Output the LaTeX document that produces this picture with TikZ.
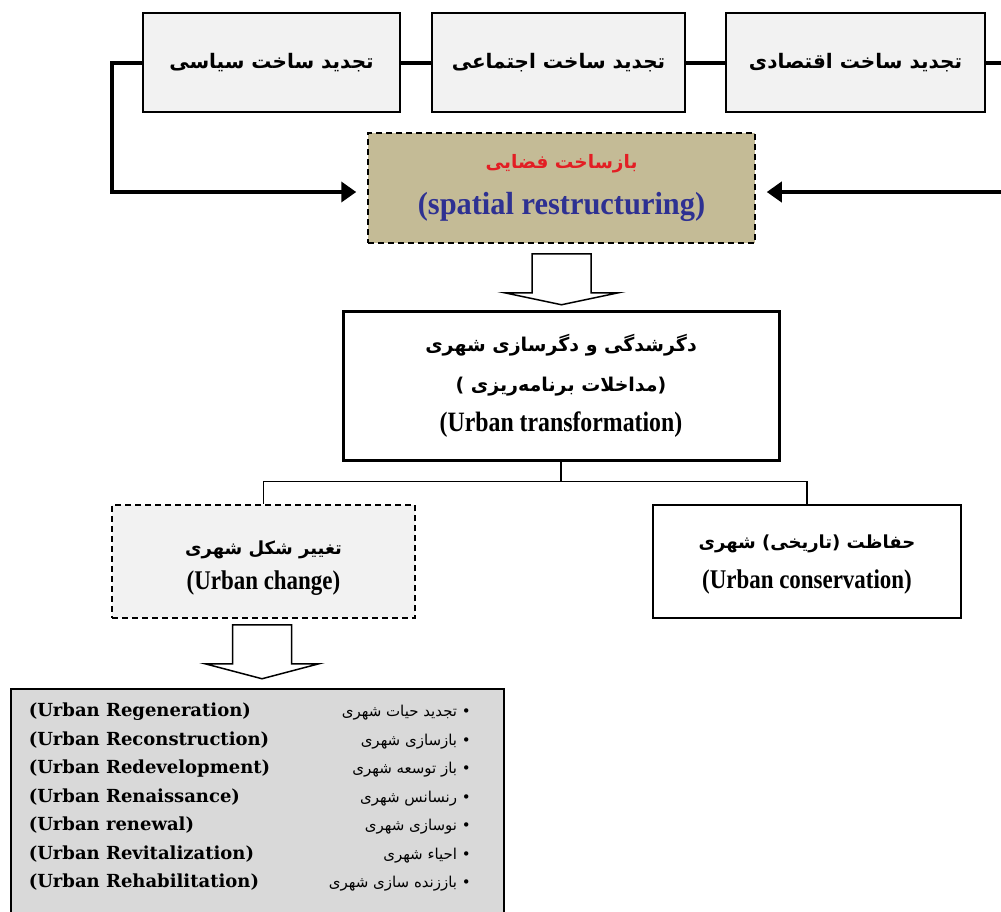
\documentclass[tikz,border=0pt]{standalone}
\usepackage{fontspec}
\setmainfont{Liberation Serif}
\newfontfamily\fafont[Script=Arabic]{DejaVu Sans}
\newfontfamily\enfont[FakeStretch=0.85]{Liberation Serif}
\newfontfamily\widefont[FakeStretch=0.95]{Liberation Serif}
\newfontfamily\listfont{DejaVu Serif}
\TeXXeTstate=1
\newcommand{\fa}[1]{{\fafont\beginR #1\endR}}
\usetikzlibrary{arrows.meta}

\definecolor{boxgray}{RGB}{242,242,242}
\definecolor{tanfill}{RGB}{196,187,150}
\definecolor{listgray}{RGB}{217,217,217}
\definecolor{redtxt}{RGB}{227,30,36}
\definecolor{bluetxt}{RGB}{46,49,146}

\tikzset{
  topbox/.style={draw, line width=1.5pt, fill=boxgray, minimum width=#1, minimum height=99pt,
    font=\fontsize{20}{24}\selectfont\fafont\bfseries},
  midbox/.style={draw, align=center, minimum width=#1, minimum height=113pt, line width=1.5pt},
  dashbox/.style={dash pattern=on 6pt off 4pt},
  thickarr/.style={line width=4pt, -{Triangle[length=15pt,width=20pt]}},
  blockarr/.style={draw, fill=white, line width=1.5pt, line join=miter},
}

\begin{document}
\begin{tikzpicture}[x=1pt,y=-1pt]
    \clip (0,0) rectangle (1001,911);

    % three restructuring boxes
    \node[topbox=257pt] (pol) at (271.5,62.5) {\fa{تجدید ساخت سیاسی}};
    \node[topbox=253pt] (soc) at (558.5,62.5) {\fa{تجدید ساخت اجتماعی}};
    \node[topbox=259pt] (eco) at (855.5,62.5) {\fa{تجدید ساخت اقتصادی}};
    \coordinate (outtop) at (1001,62.5);
    \coordinate (outmid) at (1001,192);

    % spatial restructuring
    \node[draw, dashbox, line width=1.5pt, fill=tanfill, align=center, minimum width=387pt, minimum height=110pt,
      font=\fontsize{18.5}{46}\selectfont] (spat) at (561.5,188)
      {{\color{redtxt}\fafont\bfseries\fa{بازساخت فضایی}}\\
       {\color{bluetxt}\fontsize{32}{32}\selectfont\widefont\bfseries (spatial restructuring)}};

    \draw[line width=4pt] (soc) -- (pol);
    \draw[line width=4pt] (soc) -- (eco);
    \draw[line width=4pt] (eco) -- (outtop);
    \draw[thickarr] (pol.west) -- ++(-30,0) |- ([xshift=-11pt]spat.west |- 0,192);
    \draw[thickarr] (outmid) -- ([xshift=11pt]spat.east |- 0,192);

    % block arrow
    \draw[blockarr] (spat.south) ++(-29.5,10) -- ++(0,39) -- ++(-27.5,0) -- ++(57,12)
      -- ++(57,-12) -- ++(-27.5,0) -- ++(0,-39) -- cycle;

    % urban transformation
    \node[draw, line width=3pt, align=center, minimum width=436pt, minimum height=149pt,
      font=\fontsize{19}{40}\selectfont] (trans) at (561,385.5)
      {{\fafont\bfseries\fa{دگرشدگی و دگرسازی شهری}}\\
       {\fafont\bfseries\fa{(مداخلات برنامه‌ریزی )}}\\
       {\fontsize{28}{28}\selectfont\enfont\bfseries (Urban transformation)}};

    \node[midbox=303pt, dashbox, fill=boxgray, font=\fontsize{18}{35}\selectfont] (chg) at (263.5,561.5)
      {\rule{0pt}{26pt}{\fafont\bfseries\fa{تغییر شکل شهری}}\\
       {\fontsize{27}{27}\selectfont\enfont\bfseries (Urban change)}};
    \node[midbox=308pt, font=\fontsize{18}{40}\selectfont] (cons) at (807,561.5)
      {\rule{0pt}{20pt}{\fafont\bfseries\fa{حفاظت (تاریخی) شهری}}\\
       {\fontsize{27}{27}\selectfont\enfont\bfseries (Urban conservation)}};

    \draw[line width=1.5pt] (trans.south) -- ++(0,20) coordinate (split);
    \draw[line width=1.5pt] (split) -| (chg.north);
    \draw[line width=1.5pt] (split) -| (cons.north);

    \draw[blockarr] (chg.south) ++(-31,6) -- ++(0,39) -- ++(-27.5,0) -- ++(57,15)
      -- ++(57,-15) -- ++(-27.5,0) -- ++(0,-39) -- cycle;

    % list of urban interventions
    \node[draw, line width=1.5pt, fill=listgray, anchor=north west, inner xsep=0pt, inner ysep=8pt,
      font=\fontsize{18}{28.5}\selectfont] (list) at (10,688)
      {\begin{tabular*}{493pt}{@{\hspace{18pt}}l@{\extracolsep{\fill}}r@{\hspace{33pt}}}
       \listfont\bfseries (Urban Regeneration) & \fontsize{15}{28.5}\selectfont\fa{• تجدید حیات شهری}\\
       \listfont\bfseries (Urban Reconstruction) & \fontsize{15}{28.5}\selectfont\fa{• بازسازی شهری}\\
       \listfont\bfseries (Urban Redevelopment) & \fontsize{15}{28.5}\selectfont\fa{• باز توسعه شهری}\\
       \listfont\bfseries (Urban Renaissance) & \fontsize{15}{28.5}\selectfont\fa{• رنسانس شهری}\\
       \listfont\bfseries (Urban renewal) & \fontsize{15}{28.5}\selectfont\fa{• نوسازی شهری}\\
       \listfont\bfseries (Urban Revitalization) & \fontsize{15}{28.5}\selectfont\fa{• احیاء شهری}\\
       \listfont\bfseries (Urban Rehabilitation) & \fontsize{15}{28.5}\selectfont\fa{• باززنده سازی شهری}\\
       & \\
       \end{tabular*}};
\end{tikzpicture}
\end{document}
